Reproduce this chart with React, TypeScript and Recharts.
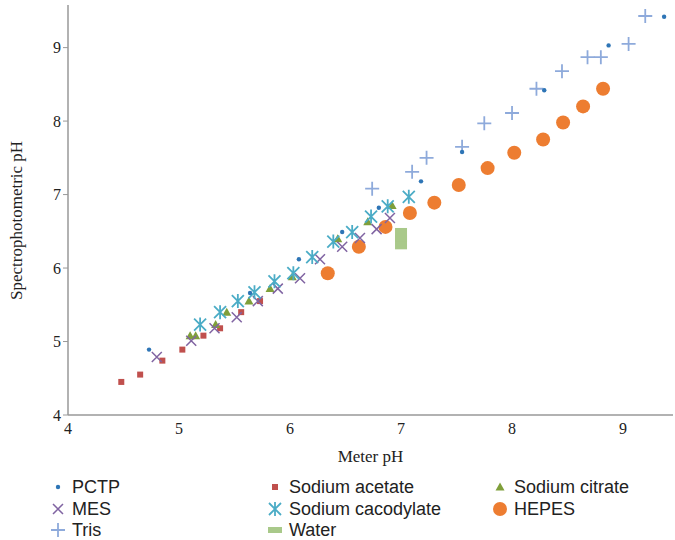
import React from "react";
import { ScatterChart, Scatter, XAxis, YAxis } from "recharts";

const pctp = [[4.73,4.89],[5.64,5.66],[6.08,6.12],[6.47,6.49],[6.8,6.82],[7.18,7.18],[7.55,7.58],[8.29,8.42],[8.87,9.03],[9.37,9.42]];
const acetate = [[4.48,4.45],[4.65,4.55],[4.85,4.74],[5.03,4.89],[5.22,5.08],[5.37,5.18],[5.56,5.4],[5.73,5.55]];
const citrate = [[5.1,5.08],[5.15,5.08],[5.33,5.23],[5.43,5.4],[5.63,5.55],[5.82,5.72],[6.02,5.88],[6.43,6.4],[6.7,6.63],[6.92,6.85]];
const mes = [[4.8,4.79],[5.11,5.01],[5.32,5.18],[5.52,5.33],[5.71,5.55],[5.89,5.72],[6.09,5.86],[6.27,6.12],[6.47,6.29],[6.63,6.41],[6.78,6.53],[6.9,6.68]];
const cacodylate = [[5.19,5.23],[5.37,5.4],[5.53,5.55],[5.68,5.67],[5.86,5.82],[6.03,5.93],[6.2,6.15],[6.39,6.36],[6.56,6.49],[6.73,6.7],[6.88,6.84],[7.07,6.97]];
const hepes = [[6.34,5.93],[6.62,6.29],[6.86,6.56],[7.08,6.75],[7.3,6.89],[7.52,7.13],[7.78,7.36],[8.02,7.57],[8.28,7.75],[8.46,7.98],[8.64,8.2],[8.82,8.44]];
const tris = [[6.74,7.08],[7.1,7.31],[7.23,7.5],[7.55,7.65],[7.75,7.97],[8.0,8.11],[8.22,8.44],[8.45,8.68],[8.68,8.87],[8.8,8.87],[9.05,9.05],[9.2,9.43]];
const water = [[7.0,6.35],[7.0,6.45]];
const xTicks = [4,5,6,7,8,9];
const yTicks = [4,5,6,7,8,9];

const toPts = (a: number[][]) => a.map(([x, y]) => ({ x, y }));

const C = {
  pctp: "#2e75b6", acetate: "#c0504d", citrate: "#7f9f3a", mes: "#8064a2",
  cacodylate: "#4bacc6", hepes: "#ed7d31", tris: "#8eaadb", water: "#a9c98a",
};

const Dot = (p: any) => <circle cx={p.cx} cy={p.cy} r={2.2} fill={C.pctp} />;
const Sq = (p: any) => <rect x={p.cx - 3} y={p.cy - 3} width={6} height={6} fill={C.acetate} />;
const Tri = (p: any) => <path d={`M${p.cx},${p.cy - 4.5}L${p.cx + 4.5},${p.cy + 3.5}L${p.cx - 4.5},${p.cy + 3.5}Z`} fill={C.citrate} />;
const X = (p: any) => <path d={`M${p.cx - 5},${p.cy - 5}L${p.cx + 5},${p.cy + 5}M${p.cx - 5},${p.cy + 5}L${p.cx + 5},${p.cy - 5}`} stroke={C.mes} strokeWidth={1.5} />;
const Ast = (p: any) => <path d={`M${p.cx - 6},${p.cy - 6}L${p.cx + 6},${p.cy + 6}M${p.cx - 6},${p.cy + 6}L${p.cx + 6},${p.cy - 6}M${p.cx},${p.cy - 7}L${p.cx},${p.cy + 7}`} stroke={C.cacodylate} strokeWidth={1.8} />;
const Circ = (p: any) => <circle cx={p.cx} cy={p.cy} r={7} fill={C.hepes} />;
const Plus = (p: any) => <path d={`M${p.cx - 7},${p.cy}L${p.cx + 7},${p.cy}M${p.cx},${p.cy - 7}L${p.cx},${p.cy + 7}`} stroke={C.tris} strokeWidth={1.8} />;
const WaterS = (p: any) => <rect x={p.cx - 6} y={p.cy - 7} width={12} height={14} fill={C.water} />;

const legendItems = [
  { name: "PCTP", shape: Dot, x: 50, y: 487 },
  { name: "Sodium acetate", shape: Sq, x: 267, y: 487 },
  { name: "Sodium citrate", shape: Tri, x: 492, y: 487 },
  { name: "MES", shape: X, x: 50, y: 509 },
  { name: "Sodium cacodylate", shape: Ast, x: 267, y: 509 },
  { name: "HEPES", shape: Circ, x: 492, y: 509 },
  { name: "Tris", shape: Plus, x: 50, y: 530 },
  { name: "Water", shape: (p: any) => <rect x={p.cx - 7} y={p.cy - 3} width={14} height={6} fill={C.water} />, x: 267, y: 530 },
];

const font = "'Liberation Serif', 'DejaVu Serif', serif";
const sans = "'Liberation Sans', Arial, sans-serif";

export default function App() {
  return (
    <div style={{ position: "absolute", left: 0, top: 0, width: 675, height: 540, background: "#fff", fontFamily: font }}>
      <ScatterChart width={675} height={540} margin={{ top: 5, right: 2, left: 16, bottom: 70 }}>
        <XAxis type="number" dataKey="x" domain={[4, 9.45]} ticks={xTicks} allowDataOverflow
          tick={{ fill: "#222", fontSize: 16, fontFamily: font }} tickLine={false}
          axisLine={{ stroke: "#999", strokeWidth: 1.5 }} height={55}
          label={{ value: "Meter pH", position: "insideBottom", offset: 8, fill: "#222", fontSize: 17, fontFamily: font }} />
        <YAxis type="number" dataKey="y" domain={[4, 9.58]} ticks={yTicks} allowDataOverflow
          tick={{ fill: "#222", fontSize: 16, fontFamily: font }} tickLine={{ stroke: "#999" }} tickSize={5}
          axisLine={{ stroke: "#999", strokeWidth: 1.5 }} width={52}
          label={{ value: "Spectrophotometric pH", angle: -90, position: "insideLeft", offset: 0, dy: 90, fill: "#222", fontSize: 17, fontFamily: font }} />
        <Scatter data={toPts(water)} shape={WaterS} isAnimationActive={false} />
        <Scatter data={toPts(hepes)} shape={Circ} isAnimationActive={false} />
        <Scatter data={toPts(acetate)} shape={Sq} isAnimationActive={false} />
        <Scatter data={toPts(citrate)} shape={Tri} isAnimationActive={false} />
        <Scatter data={toPts(mes)} shape={X} isAnimationActive={false} />
        <Scatter data={toPts(cacodylate)} shape={Ast} isAnimationActive={false} />
        <Scatter data={toPts(tris)} shape={Plus} isAnimationActive={false} />
        <Scatter data={toPts(pctp)} shape={Dot} isAnimationActive={false} />
      </ScatterChart>
      <svg style={{ position: "absolute", left: 0, top: 0 }} width={675} height={540}>
        {legendItems.map((it) => {
          const S = it.shape;
          return (
            <g key={it.name}>
              <S cx={it.x + 8} cy={it.y} />
              <text x={it.x + 22} y={it.y + 6} fontSize={18} fill="#222" fontFamily={sans}>{it.name}</text>
            </g>
          );
        })}
      </svg>
    </div>
  );
}
